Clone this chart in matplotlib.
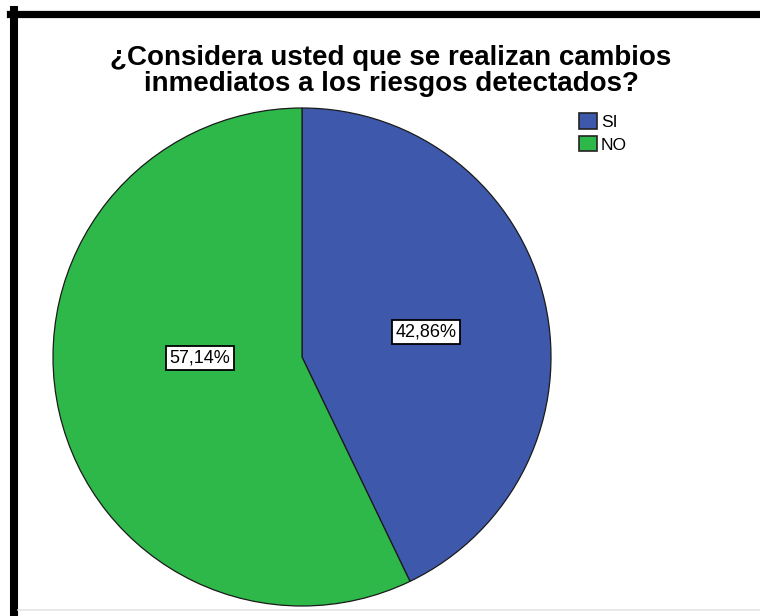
import matplotlib.pyplot as plt
from matplotlib.lines import Line2D
from matplotlib.patches import Patch

categories = ['SI', 'NO']
values = [42.86, 57.14]
colors = ['#3E58AC', '#2EB84A']
title = '¿Considera usted que se realizan cambios\ninmediatos a los riesgos detectados?'

plt.rcParams['font.family'] = ['Liberation Sans', 'DejaVu Sans']

fig = plt.figure(figsize=(7.6, 6.16), dpi=100)
W, H = 760, 616

# frame: thick black top and left edges, faint grey bottom
fig.add_artist(Line2D([10 / W, 1], [1 - 13.5 / H] * 2, color='black', lw=5.2,
                      transform=fig.transFigure))
fig.add_artist(Line2D([14 / W] * 2, [1 - 10 / H, 0], color='black', lw=5.8,
                      transform=fig.transFigure))
fig.add_artist(Line2D([18 / W, 1], [1 - 610 / H] * 2, color='#e4e4e4', lw=1.2,
                      transform=fig.transFigure))

cx, cy, r = 302, 357, 249
ax = fig.add_axes([(cx - r) / W, (H - cy - r) / H, 2 * r / W, 2 * r / H])
wedges, texts, autotexts = ax.pie(
    values, colors=colors, startangle=90, counterclock=False,
    autopct=lambda p: f'{p:.2f}%'.replace('.', ','), pctdistance=0.5,
    wedgeprops=dict(edgecolor='#1a1a1a', linewidth=0.9))
ax.set_xlim(-1, 1)
ax.set_ylim(-1, 1)
ax.set_aspect('equal')

for t in autotexts:
    t.set_fontsize(13)
    t.set_bbox(dict(facecolor='white', edgecolor='black', linewidth=1.3, pad=2.5))
# SPSS places the larger label nearer the horizontal
x, y = autotexts[0].get_position()
autotexts[0].set_position((x + 0.01, y - 0.01))
autotexts[1].set_position((-0.41, -0.005))

fig.text(391 / W, 1 - 45 / H, title, ha='center', va='top', fontsize=20,
         fontweight='bold', linespacing=1.0)

handles = [Patch(facecolor=c, edgecolor='#222222', linewidth=1.2) for c in colors]
fig.legend(handles, categories, loc='upper left',
           bbox_to_anchor=(567 / W, 1 - 101 / H), frameon=False, fontsize=12.5,
           handlelength=1.0, handleheight=1.0, handletextpad=0.25,
           labelspacing=0.35, borderpad=0.2)

fig.savefig('out.png', dpi=100)
